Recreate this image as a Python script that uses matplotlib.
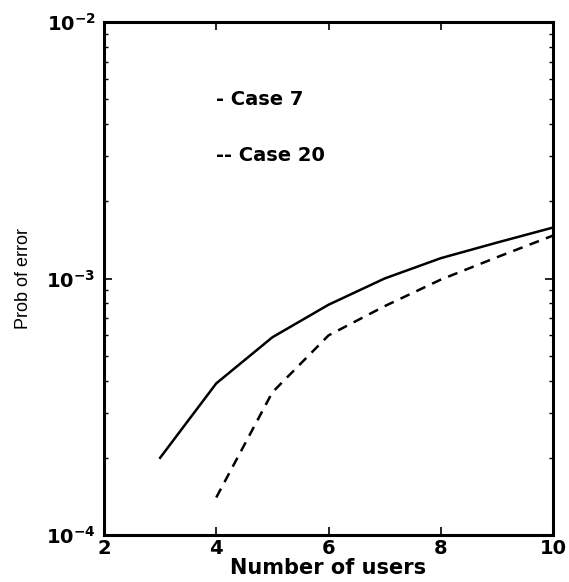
import matplotlib
matplotlib.use("Agg")
import matplotlib.pyplot as plt
from matplotlib.ticker import FixedLocator, LogLocator, NullFormatter, FuncFormatter
import numpy as np

# Data
users_case7 = [3, 4, 5, 6, 7, 8, 9, 10]
perr_case7 = [2.0e-4, 3.9e-4, 5.9e-4, 7.9e-4, 1.0e-3, 1.2e-3, 1.38e-3, 1.58e-3]
users_case20 = [4, 5, 6, 7, 8, 9, 10]
perr_case20 = [1.4e-4, 3.6e-4, 6.0e-4, 7.8e-4, 9.9e-4, 1.21e-3, 1.47e-3]
x_ticks = [2, 4, 6, 8, 10]
y_ticks = [1e-4, 1e-3, 1e-2]
legend_texts = ["- Case 7", "-- Case 20"]

plt.rcParams['mathtext.fontset'] = 'custom'
plt.rcParams['mathtext.rm'] = 'DejaVu Sans:bold'
plt.rcParams['mathtext.it'] = 'DejaVu Sans:bold'
plt.rcParams['mathtext.bf'] = 'DejaVu Sans:bold'
plt.rcParams['mathtext.default'] = 'rm'

fig = plt.figure(figsize=(5.69, 5.82), dpi=100)
ax = fig.add_axes([104/569, 1-535/582, (553-104)/569, (535-22)/582])

ax.plot(users_case7, perr_case7, color='black', lw=1.8, ls='-')
ax.plot(users_case20, perr_case20, color='black', lw=1.8, ls=(0, (4, 3)))

ax.set_yscale('log')
ax.set_xlim(2, 10)
ax.set_ylim(1e-4, 1e-2)
ax.xaxis.set_major_locator(FixedLocator(x_ticks))
ax.yaxis.set_major_locator(FixedLocator(y_ticks))
ax.yaxis.set_minor_locator(LogLocator(base=10, subs=np.arange(2, 10)))
ax.yaxis.set_minor_formatter(NullFormatter())
ax.yaxis.set_major_formatter(FuncFormatter(lambda v, p: r'$10^{%d}$' % int(round(np.log10(v)))))

for s in ax.spines.values():
    s.set_linewidth(2.2)

ax.tick_params(which='both', direction='in', top=True, right=True, color='black')
ax.tick_params(which='major', length=6, width=1.2)
ax.tick_params(which='minor', length=3, width=1.0)
ax.tick_params(axis='x', labelsize=14, pad=3)
ax.tick_params(axis='y', labelsize=14, pad=6)
for lab in ax.get_xticklabels():
    lab.set_fontfamily('DejaVu Sans')
    lab.set_fontweight('bold')

ax.set_xlabel('Number of users', fontfamily='DejaVu Sans', fontweight='bold',
              fontsize=15, labelpad=0)
ax.set_ylabel('Prob of error', family=['Liberation Sans Narrow', 'Liberation Sans'],
              fontsize=13, labelpad=10)

ax.annotate(legend_texts[0], xy=(216/569, 1-99/582), xycoords='figure fraction',
            fontfamily='DejaVu Sans', fontweight='bold', fontsize=14,
            ha='left', va='center')
ax.annotate(legend_texts[1], xy=(216/569, 1-156/582), xycoords='figure fraction',
            fontfamily='DejaVu Sans', fontweight='bold', fontsize=14,
            ha='left', va='center')

fig.savefig('out.png', dpi=100, facecolor='white')
